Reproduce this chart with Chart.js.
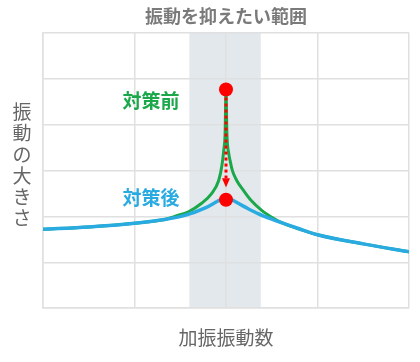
<!DOCTYPE html>
<html>
<head>
<meta charset="utf-8">
<script src="https://cdn.jsdelivr.net/npm/chart.js@4"></script>
<style>
  html, body { margin: 0; padding: 0; background: #fff; }
  #wrap { width: 420px; height: 362px; }
</style>
</head>
<body>
<div id="wrap"><canvas id="vibChart" width="420" height="362"></canvas></div>
<script>
// 対策後 (after countermeasure)
const afterX = [0, 0.5, 1, 1.33, 1.55, 1.78, 1.92, 2, 2.04, 2.21, 2.35, 2.5, 2.8, 3, 3.5, 4];
const afterY = [1.72, 1.77, 1.85, 1.93, 2.02, 2.19, 2.34, 2.40, 2.38, 2.20, 2.06, 1.94, 1.73, 1.60, 1.40, 1.23];

// 対策前 (before countermeasure)
const beforeX = [0, 0.5, 1, 1.33, 1.44, 1.59, 1.73, 1.84, 1.92, 1.955, 1.975, 1.99, 2, 2.01, 2.03, 2.044, 2.069, 2.117, 2.189, 2.273, 2.39, 2.5, 2.59, 2.8, 3, 3.5, 4];
const beforeY = [1.72, 1.77, 1.85, 1.93, 2.0, 2.1, 2.28, 2.49, 2.78, 3.1, 3.43, 3.8, 4.76, 3.8, 3.37, 3.22, 3.0, 2.78, 2.57, 2.35, 2.13, 1.98, 1.88, 1.72, 1.60, 1.40, 1.23];

// peak markers
const markX = [2, 2];
const markY = [4.76, 2.36];

// shaded band (振動を抑えたい範囲)
const bandRange = [1.6, 2.38];

const labels = [
    { text: '対策前', x: 1.18, y: 4.52, color: '#1aa84b' },
    { text: '対策後', x: 1.18, y: 2.41, color: '#29abe2' }
];
const yTitle = ['振', '動', 'の', '大', 'き', 'さ'];
const xTitle = '加振振動数';
const chartTitle = '振動を抑えたい範囲';

const FONT = '"Noto Sans CJK JP", "Noto Sans", sans-serif';

const toPoints = (xs, ys) => xs.map((x, i) => ({ x: x, y: ys[i] }));

const bandPlugin = {
    id: 'band',
    beforeDraw(chart) {
        const { ctx, chartArea, scales } = chart;
        const x0 = scales.x.getPixelForValue(bandRange[0]);
        const x1 = scales.x.getPixelForValue(bandRange[1]);
        ctx.save();
        ctx.fillStyle = '#e3e8ec';
        ctx.fillRect(x0, chartArea.top, x1 - x0, chartArea.bottom - chartArea.top);
        ctx.restore();
    }
};

const annotatePlugin = {
    id: 'annotate',
    afterDatasetsDraw(chart) {
        const { ctx, scales } = chart;
        const xs = scales.x, ys = scales.y;

        // red dotted arrow
        const ax = xs.getPixelForValue(markX[0]);
        const yStart = ys.getPixelForValue(markY[0]) + 8;
        const headTop = ys.getPixelForValue(2.83);
        const headTip = ys.getPixelForValue(2.63);
        ctx.save();
        ctx.strokeStyle = '#ff0000';
        ctx.lineWidth = 3;
        ctx.setLineDash([3, 3]);
        ctx.beginPath();
        ctx.moveTo(ax, yStart);
        ctx.lineTo(ax, headTop);
        ctx.stroke();
        ctx.setLineDash([]);
        ctx.fillStyle = '#ff0000';
        ctx.beginPath();
        ctx.moveTo(ax - 4, headTop);
        ctx.lineTo(ax + 4, headTop);
        ctx.lineTo(ax, headTip);
        ctx.closePath();
        ctx.fill();

        // series labels
        ctx.font = 'bold 19px ' + FONT;
        ctx.textAlign = 'center';
        ctx.textBaseline = 'middle';
        labels.forEach(l => {
            ctx.fillStyle = l.color;
            ctx.fillText(l.text, xs.getPixelForValue(l.x), ys.getPixelForValue(l.y));
        });
        ctx.restore();
    },
    afterDraw(chart) {
        // vertical y-axis title, one character per row
        const { ctx } = chart;
        ctx.save();
        ctx.font = '19px ' + FONT;
        ctx.fillStyle = '#666';
        ctx.textAlign = 'center';
        ctx.textBaseline = 'middle';
        yTitle.forEach((ch, i) => {
            ctx.fillText(ch, 22, 112 + i * 21.2);
        });
        ctx.restore();
    }
};

const ctx = document.getElementById('vibChart').getContext('2d');
new Chart(ctx, {
    type: 'line',
    data: {
        datasets: [
            {
                label: 'peaks',
                data: toPoints(markX, markY),
                pointRadius: 7,
                pointBackgroundColor: '#ff0000',
                pointBorderWidth: 0,
                showLine: false
            },
            {
                label: '対策後',
                data: toPoints(afterX, afterY),
                borderColor: '#29abe2',
                borderWidth: 3.5,
                pointRadius: 0,
                cubicInterpolationMode: 'monotone'
            },
            {
                label: '対策前',
                data: toPoints(beforeX, beforeY),
                borderColor: '#1aa84b',
                borderWidth: 3,
                pointRadius: 0,
                cubicInterpolationMode: 'monotone'
            }
        ]
    },
    options: {
        responsive: false,
        animation: false,
        layout: {
            padding: { left: 43, right: 11, top: 0, bottom: 0 }
        },
        plugins: {
            legend: { display: false },
            tooltip: { enabled: false },
            title: {
                display: true,
                fullSize: false,
                text: chartTitle,
                color: '#7a7a7a',
                font: { family: FONT, size: 18, weight: 'bold' },
                padding: { top: 5, bottom: 6 }
            }
        },
        scales: {
            x: {
                type: 'linear',
                min: 0,
                max: 4,
                ticks: { display: false, stepSize: 1 },
                grid: { color: '#e0e0e0', lineWidth: 1.5, drawTicks: false },
                border: { color: '#e0e0e0', width: 1.5 },
                title: {
                    display: true,
                    text: xTitle,
                    color: '#666',
                    font: { family: FONT, size: 19 },
                    padding: { top: 18, bottom: 13 }
                }
            },
            y: {
                min: 0,
                max: 6,
                ticks: { display: false, stepSize: 1 },
                grid: { color: '#e0e0e0', lineWidth: 1.5, drawTicks: false },
                border: { color: '#e0e0e0', width: 1.5 }
            }
        }
    },
    plugins: [bandPlugin, annotatePlugin]
});
</script>
</body>
</html>
